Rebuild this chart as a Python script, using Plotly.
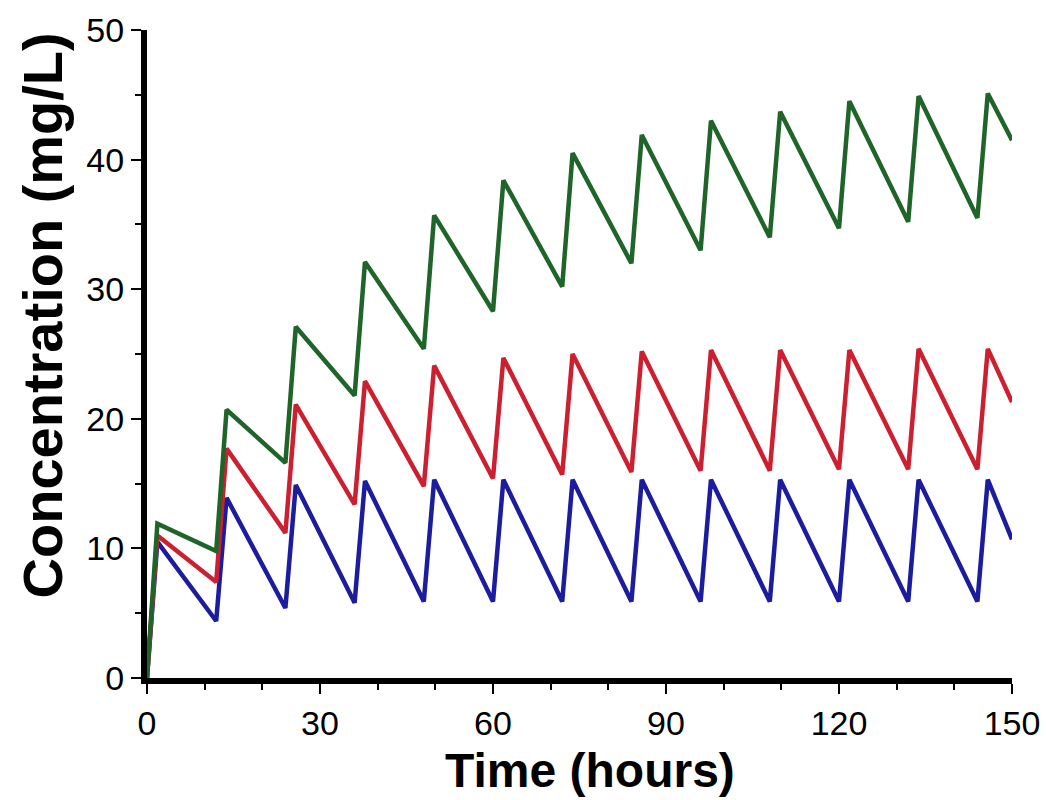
import plotly.graph_objects as go

# ---- data ----
dose_times = [0, 12, 24, 36, 48, 60, 72, 84, 96, 108, 120, 132, 144]   # hours
peak_delay = 1.8          # hours from a dose to the peak
end_time = 150

blue_trough = [0.0, 4.4, 5.4, 5.8, 5.9, 5.9, 5.9, 5.9, 5.9, 5.9, 5.9, 5.9, 5.9]
blue_peak = [10.5, 13.9, 14.9, 15.2, 15.3, 15.3, 15.3, 15.3, 15.3, 15.3, 15.3, 15.3, 15.3]
blue_end = 10.7

red_trough = [0.0, 7.4, 11.2, 13.4, 14.8, 15.4, 15.7, 15.9, 16.0, 16.0, 16.1, 16.1, 16.1]
red_peak = [11.0, 17.7, 21.1, 22.9, 24.1, 24.7, 25.0, 25.2, 25.3, 25.3, 25.3, 25.4, 25.4]
red_end = 21.3

green_trough = [0.0, 9.8, 16.6, 21.8, 25.4, 28.3, 30.2, 32.0, 33.0, 34.0, 34.7, 35.2, 35.5]
green_peak = [11.9, 20.7, 27.1, 32.1, 35.7, 38.4, 40.5, 41.9, 43.0, 43.7, 44.5, 44.9, 45.1]
green_end = 41.5

x_ticks = [0, 30, 60, 90, 120, 150]
y_ticks = [0, 10, 20, 30, 40, 50]


def build(troughs, peaks, end_val):
    xs, ys = [], []
    for t, tr, pk in zip(dose_times, troughs, peaks):
        xs += [t, t + peak_delay]
        ys += [tr, pk]
    xs.append(end_time)
    ys.append(end_val)
    return xs, ys


series = [
    ("blue", blue_trough, blue_peak, blue_end, "#1c1c9e"),
    ("red", red_trough, red_peak, red_end, "#cc2030"),
    ("green", green_trough, green_peak, green_end, "#1f6529"),
]

fig = go.Figure()
for name, tr, pk, ev, col in series:
    xs, ys = build(tr, pk, ev)
    fig.add_trace(go.Scatter(x=xs, y=ys, mode="lines", name=name,
                             line=dict(color=col, width=4.5), showlegend=False))

tick_font = dict(family="Liberation Sans, Arial, sans-serif", size=34, color="black")
axis_common = dict(showline=True, linecolor="black", linewidth=6, showgrid=False,
                   zeroline=False, ticks="outside", ticklen=10, tickwidth=2,
                   tickcolor="black", tickfont=tick_font)

fig.update_xaxes(range=[0, 150], tickvals=x_ticks, ticktext=[str(v) for v in x_ticks],
                 minor=dict(dtick=10, tick0=0, ticks="outside", ticklen=6,
                            tickwidth=2, tickcolor="black"),
                 **axis_common)
fig.update_yaxes(range=[0, 50], tickvals=y_ticks, ticktext=[str(v) for v in y_ticks],
                 minor=dict(dtick=5, tick0=0, ticks="outside", ticklen=6,
                            tickwidth=2, tickcolor="black"),
                 **axis_common)

title_font = dict(family="Liberation Sans, Arial, sans-serif", size=48, color="black",
                  weight="bold")
fig.add_annotation(text="Time (hours)", xref="paper", yref="paper",
                   x=0.512, y=-0.142, xanchor="center", yanchor="middle",
                   showarrow=False, font=title_font)
fig.add_annotation(text="Concentration (mg/L)", xref="paper", yref="paper",
                   x=-0.121, y=0.56, xanchor="center", yanchor="middle",
                   textangle=-90, showarrow=False,
                   font=dict(title_font, size=56))

fig.update_layout(width=1046, height=800,
                  margin=dict(l=147, r=34, t=30, b=122, autoexpand=False),
                  paper_bgcolor="white", plot_bgcolor="white")

fig.write_html("out.html")
